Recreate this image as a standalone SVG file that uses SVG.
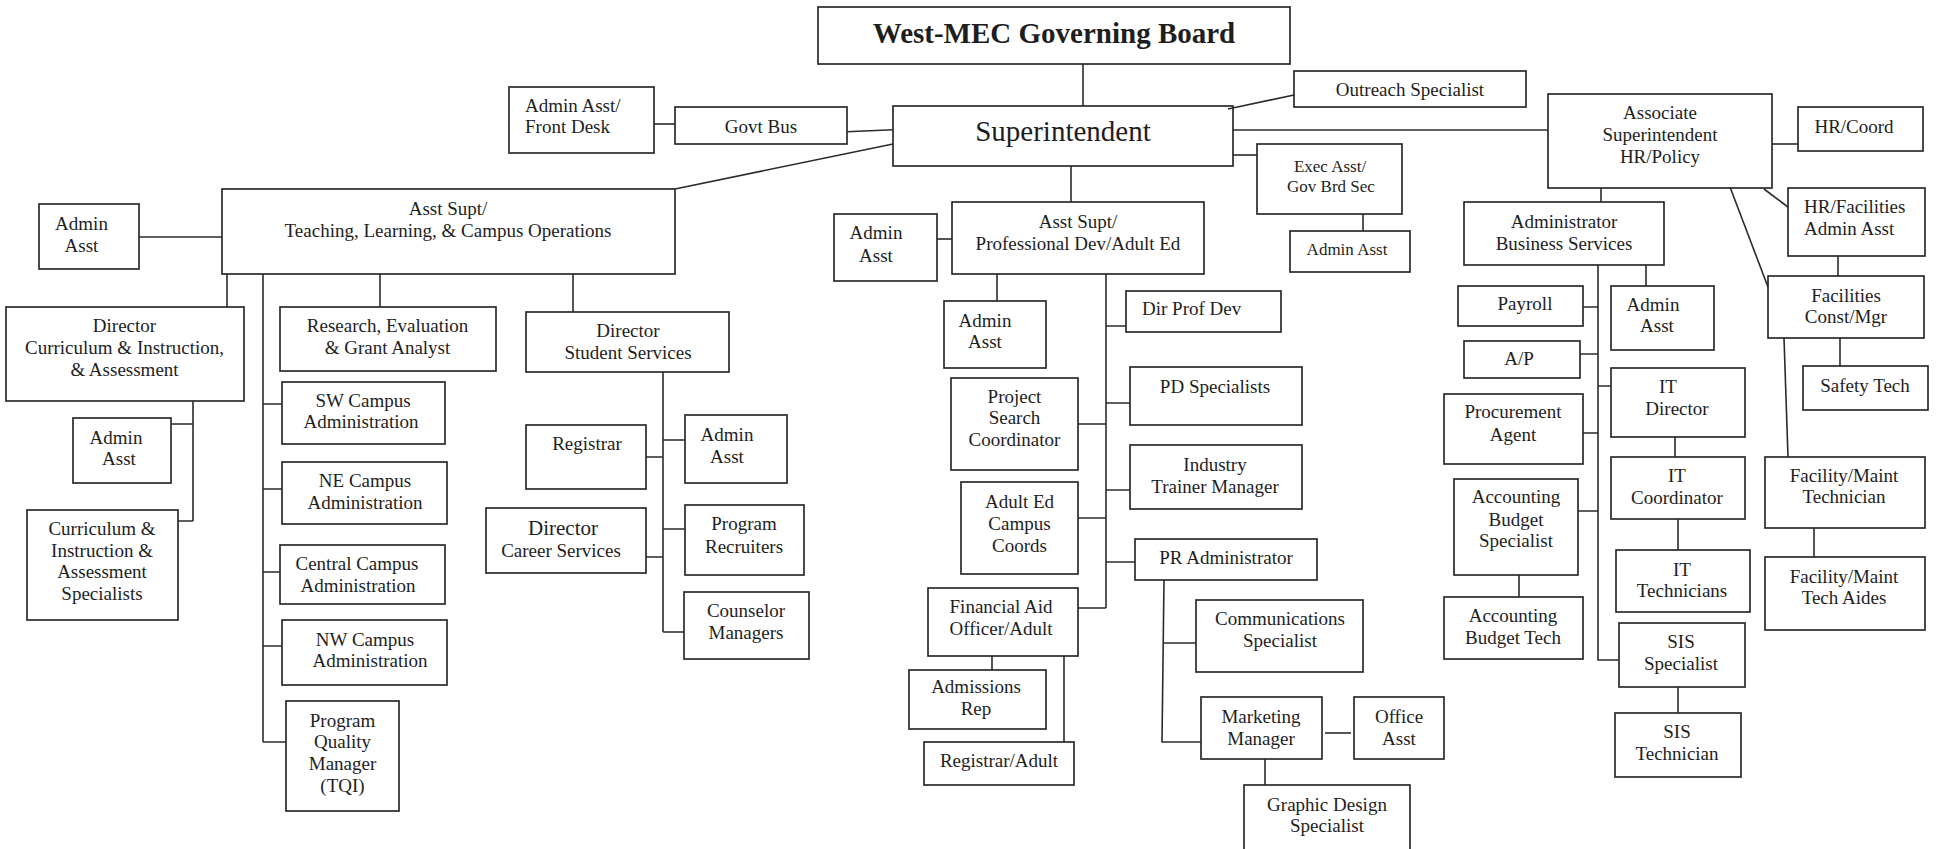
<svg xmlns="http://www.w3.org/2000/svg" width="1940" height="849" viewBox="0 0 1940 849">
<style>
rect{fill:#fff;stroke:#2b2b2b;stroke-width:1.7}
text{font-family:"Liberation Serif","Times New Roman",serif;font-size:19px;fill:#1e1e1e;text-anchor:middle}
.s{text-anchor:start}
.sm{font-size:17px}
.c path{stroke:#2b2b2b;stroke-width:1.6;fill:none}
</style>
<rect x="0" y="0" width="1940" height="849" style="stroke:none;fill:#fff"/>
<g id="board"><rect x="818" y="7" width="472" height="57"/><text x="1054" y="43" style="font-size:29px;font-weight:bold">West-MEC Governing Board</text></g>
<g id="supt"><rect x="893" y="106" width="340" height="60"/><text x="1063" y="141" style="font-size:29px">Superintendent</text></g>
<g id="outreach"><rect x="1294" y="71" width="232" height="36"/><text x="1410" y="96">Outreach Specialist</text></g>
<g id="frontdesk"><rect x="509" y="87" width="145" height="66"/><text class="s" x="525" y="112">Admin Asst/</text><text class="s" x="525" y="133">Front Desk</text></g>
<g id="govtbus"><rect x="675" y="107" width="172" height="37"/><text x="761" y="133">Govt Bus</text></g>
<g id="exec"><rect x="1257" y="144" width="145" height="70"/><text class="sm" x="1330" y="172">Exec Asst/</text><text class="sm" x="1331" y="192">Gov Brd Sec</text></g>
<g id="execadmin"><rect x="1290" y="231" width="120" height="41"/><text class="sm" x="1347" y="255">Admin Asst</text></g>
<g id="assoc"><rect x="1548" y="94" width="224" height="94"/><text x="1660" y="119">Associate</text><text x="1660" y="141">Superintendent</text><text x="1660" y="163">HR/Policy</text></g>
<g id="hrcoord"><rect x="1798" y="107" width="125" height="44"/><text x="1854" y="133">HR/Coord</text></g>
<g id="hrfac"><rect x="1788" y="188" width="137" height="68"/><text class="s" x="1804" y="213">HR/Facilities</text><text class="s" x="1804" y="235">Admin Asst</text></g>
<g id="facil"><rect x="1768" y="276" width="156" height="62"/><text x="1846" y="302">Facilities</text><text x="1846" y="323">Const/Mgr</text></g>
<g id="safety"><rect x="1803" y="366" width="125" height="44"/><text x="1865" y="392">Safety Tech</text></g>
<g id="fmtech"><rect x="1765" y="457" width="160" height="71"/><text x="1844" y="482">Facility/Maint</text><text x="1844" y="503">Technician</text></g>
<g id="fmaides"><rect x="1765" y="557" width="160" height="73"/><text x="1844" y="583">Facility/Maint</text><text x="1844" y="604">Tech Aides</text></g>
<g id="adminbs"><rect x="1464" y="202" width="200" height="63"/><text x="1564" y="228">Administrator</text><text x="1564" y="250">Business Services</text></g>
<g id="payroll"><rect x="1458" y="286" width="125" height="40"/><text x="1525" y="310">Payroll</text></g>
<g id="ap"><rect x="1464" y="341" width="116" height="37"/><text x="1519" y="365">A/P</text></g>
<g id="procure"><rect x="1444" y="394" width="139" height="70"/><text x="1513" y="418">Procurement</text><text x="1513" y="441">Agent</text></g>
<g id="acctspec"><rect x="1454" y="479" width="124" height="96"/><text x="1516" y="503">Accounting</text><text x="1516" y="526">Budget</text><text x="1516" y="547">Specialist</text></g>
<g id="accttech"><rect x="1444" y="597" width="139" height="62"/><text x="1513" y="622">Accounting</text><text x="1513" y="644">Budget Tech</text></g>
<g id="bsadmin"><rect x="1611" y="286" width="103" height="64"/><text x="1653" y="311">Admin</text><text x="1657" y="332">Asst</text></g>
<g id="itdir"><rect x="1611" y="368" width="134" height="69"/><text x="1668" y="393">IT</text><text x="1677" y="415">Director</text></g>
<g id="itcoord"><rect x="1611" y="457" width="134" height="62"/><text x="1677" y="482">IT</text><text x="1677" y="504">Coordinator</text></g>
<g id="ittech"><rect x="1616" y="550" width="134" height="62"/><text x="1682" y="576">IT</text><text x="1682" y="597">Technicians</text></g>
<g id="sisspec"><rect x="1619" y="623" width="126" height="64"/><text x="1681" y="648">SIS</text><text x="1681" y="670">Specialist</text></g>
<g id="sistech"><rect x="1615" y="713" width="126" height="64"/><text x="1677" y="738">SIS</text><text x="1677" y="760">Technician</text></g>
<g id="tladmin"><rect x="39" y="204" width="100" height="65"/><text x="81.5" y="230">Admin</text><text x="81.5" y="252">Asst</text></g>
<g id="tl"><rect x="222" y="189" width="453" height="85"/><text x="448" y="215">Asst Supt/</text><text x="448" y="237">Teaching, Learning, &amp; Campus Operations</text></g>
<g id="pdadmin"><rect x="834" y="214" width="103" height="67"/><text x="876" y="239">Admin</text><text x="876" y="262">Asst</text></g>
<g id="pd"><rect x="952" y="202" width="252" height="72"/><text x="1078" y="228">Asst Supt/</text><text x="1078" y="250">Professional Dev/Adult Ed</text></g>
<g id="dircia"><rect x="6" y="307" width="238" height="94"/><text x="124.5" y="332">Director</text><text x="124.5" y="354">Curriculum &amp; Instruction,</text><text x="124.5" y="376">&amp; Assessment</text></g>
<g id="ciaadmin"><rect x="73" y="418" width="98" height="65"/><text x="116" y="444">Admin</text><text x="119" y="465">Asst</text></g>
<g id="ciaspec"><rect x="27" y="510" width="151" height="110"/><text x="102" y="535">Curriculum &amp;</text><text x="102" y="557">Instruction &amp;</text><text x="102" y="578">Assessment</text><text x="102" y="600">Specialists</text></g>
<g id="research"><rect x="280" y="307" width="216" height="64"/><text x="387.5" y="332">Research, Evaluation</text><text x="387.5" y="354">&amp; Grant Analyst</text></g>
<g id="sw"><rect x="282" y="382" width="163" height="62"/><text x="363" y="407">SW Campus</text><text x="361" y="428">Administration</text></g>
<g id="ne"><rect x="282" y="462" width="165" height="62"/><text x="365" y="487">NE Campus</text><text x="365" y="509">Administration</text></g>
<g id="central"><rect x="280" y="545" width="165" height="59"/><text x="357" y="570">Central Campus</text><text x="358" y="592">Administration</text></g>
<g id="nw"><rect x="282" y="620" width="165" height="65"/><text x="365" y="646">NW Campus</text><text x="370" y="667">Administration</text></g>
<g id="pqm"><rect x="286" y="701" width="113" height="110"/><text x="342.5" y="727">Program</text><text x="342.5" y="748">Quality</text><text x="342.5" y="770">Manager</text><text x="342.5" y="792">(TQI)</text></g>
<g id="dirss"><rect x="526" y="312" width="203" height="60"/><text x="628" y="337">Director</text><text x="628" y="359">Student Services</text></g>
<g id="registrar"><rect x="526" y="425" width="120" height="64"/><text x="587" y="450">Registrar</text></g>
<g id="ssadmin"><rect x="685" y="415" width="102" height="68"/><text x="727" y="441">Admin</text><text x="727" y="463">Asst</text></g>
<g id="dircs"><rect x="486" y="508" width="160" height="65"/><text x="563" y="535" style="font-size:21px">Director</text><text x="561" y="557">Career Services</text></g>
<g id="recruit"><rect x="685" y="505" width="119" height="70"/><text x="744" y="530">Program</text><text x="744" y="553">Recruiters</text></g>
<g id="counsel"><rect x="684" y="592" width="125" height="67"/><text x="746" y="617">Counselor</text><text x="746" y="639">Managers</text></g>
<g id="pdadmin2"><rect x="944" y="301" width="102" height="67"/><text x="985" y="327">Admin</text><text x="985" y="348">Asst</text></g>
<g id="psc"><rect x="951" y="378" width="127" height="92"/><text x="1014.5" y="403">Project</text><text x="1014.5" y="424">Search</text><text x="1014.5" y="446">Coordinator</text></g>
<g id="aecc"><rect x="961" y="482" width="117" height="92"/><text x="1019.5" y="508">Adult Ed</text><text x="1019.5" y="530">Campus</text><text x="1019.5" y="552">Coords</text></g>
<g id="fao"><rect x="928" y="588" width="150" height="68"/><text x="1001" y="613">Financial Aid</text><text x="1001" y="635">Officer/Adult</text></g>
<g id="adrep"><rect x="909" y="670" width="137" height="59"/><text x="976" y="693">Admissions</text><text x="976" y="715">Rep</text></g>
<g id="regadult"><rect x="924" y="742" width="150" height="43"/><text x="999" y="767">Registrar/Adult</text></g>
<g id="dirpd"><rect x="1126" y="291" width="155" height="41"/><text class="s" x="1142" y="315">Dir Prof Dev</text></g>
<g id="pdspec"><rect x="1130" y="367" width="172" height="58"/><text x="1215" y="393">PD Specialists</text></g>
<g id="itm"><rect x="1130" y="445" width="172" height="64"/><text x="1215" y="471">Industry</text><text x="1215" y="493">Trainer Manager</text></g>
<g id="pr"><rect x="1135" y="539" width="182" height="41"/><text x="1226" y="564">PR Administrator</text></g>
<g id="comm"><rect x="1196" y="600" width="167" height="72"/><text x="1280" y="625">Communications</text><text x="1280" y="647">Specialist</text></g>
<g id="mkt"><rect x="1201" y="697" width="121" height="62"/><text x="1261" y="723">Marketing</text><text x="1261" y="745">Manager</text></g>
<g id="office"><rect x="1354" y="697" width="90" height="62"/><text x="1399" y="723">Office</text><text x="1399" y="745">Asst</text></g>
<g id="graphic"><rect x="1244" y="785" width="166" height="70"/><text x="1327" y="811">Graphic Design</text><text x="1327" y="832">Specialist</text></g>
<g class="c" id="connectors">
<path d="M1083 64V106"/>
<path d="M847 131.7L893 129.7"/>
<path d="M654 124H675"/>
<path d="M893 144L675 189"/>
<path d="M1294 95L1228 109"/>
<path d="M1233 130H1548"/>
<path d="M1233 155H1257"/>
<path d="M1363 214V231"/>
<path d="M1071 166V202"/>
<path d="M937 239H952"/>
<path d="M139 237H222"/>
<path d="M227 274V307"/>
<path d="M263 274V742"/>
<path d="M380 274V307"/>
<path d="M573 274V312"/>
<path d="M263 404H282M263 489H282M263 572H280M263 646H282M263 742H286"/>
<path d="M193 401V521M171 424H193M178 521H193"/>
<path d="M663 372V632M646 457H663M663 440H685M646 557H663M663 529H685M663 632H684"/>
<path d="M997 274V301"/>
<path d="M1106 274V608"/>
<path d="M1078 424H1106M1078 518H1106M1078 608H1106M1106 326H1126M1106 403H1130M1106 490H1130M1106 562H1135"/>
<path d="M992 656V670M1064 656V742"/>
<path d="M1164 580L1162 742H1201M1163 643H1196"/>
<path d="M1325 733H1351"/>
<path d="M1265 759V785"/>
<path d="M1772 144H1798"/>
<path d="M1764 189L1788 207"/>
<path d="M1730 187L1768 287"/>
<path d="M1838 256V276"/>
<path d="M1840 338V366"/>
<path d="M1784 338L1788 457"/>
<path d="M1814 528V557"/>
<path d="M1601 188V202"/>
<path d="M1598 265V660H1619"/>
<path d="M1646 265V286"/>
<path d="M1583 307H1598M1580 354H1598M1598 386H1611M1583 433H1598M1578 511H1598"/>
<path d="M1675 437V457M1678 519V550M1519 575V597M1678 687V713"/>
</g>
</svg>
